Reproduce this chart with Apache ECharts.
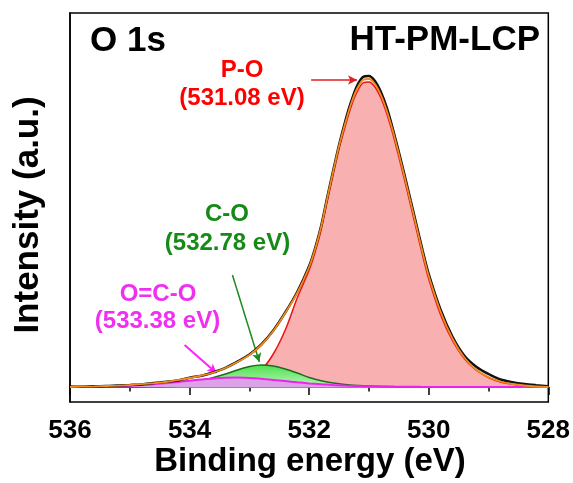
<!DOCTYPE html>
<html>
<head>
<meta charset="utf-8">
<script src="https://cdn.jsdelivr.net/npm/echarts@6/dist/echarts.min.js"></script>
<style>html,body{margin:0;padding:0;background:#fff}#c{width:573px;height:483px}</style>
</head>
<body>
<div id="c"></div>
<script>
// Binding energy grid (eV)
var energy = [536.0,535.8,535.6,535.4,535.2,535.0,534.8,534.6,534.4,534.2,534.0,533.8,533.6,533.4,533.2,533.0,532.8,532.6,532.4,532.2,532.0,531.9,531.8,531.7,531.6,531.5,531.4,531.3,531.2,531.1,531.0,530.9,530.8,530.7,530.6,530.5,530.4,530.3,530.2,530.1,530.0,529.8,529.6,529.4,529.2,529.0,528.8,528.6,528.4,528.2,528.0];
// Raw spectrum (a.u.)
var rawData = [0.5,0.2,0.8,0.9,1.6,2.1,2.6,4.0,5.2,6.6,9.3,11.3,14.8,19.2,25.3,32.4,42.5,56.5,74.5,95,121,139,161,189,216,242,265,285,301,310,311,306,295,279,258,235,211,186,161,136,113,77,50,31,20,13,7.5,4.8,3,1.8,0.8];
// Fitted envelope
var fitData = [0,0.3,0.6,1.0,1.4,2.0,2.8,3.8,5.0,6.8,9.0,11.5,14.5,19,25,32,42,56,74,94,120,138,160,188,215,241,263,283,298,307,308,303,292,276,256,233,209,184,159,134,111,75,48,29,17,10,5.5,3,1.5,0.5,0];
// P-O component
var poData = [0,0,0,0,0,0,0.1,0.2,0.4,0.7,1,1.5,2.5,3.5,5.5,9,17,33,57,89,117,135,157,185,212,238,260,280,295,304,305,300,289,273,253,230,206,181,156,131,108,72,46,28,16.5,9.5,5,2.8,1.4,0.5,0];
// C-O component
var coData = [0,0.1,0.2,0.3,0.4,0.5,0.8,1.2,2,3,4.5,6.5,9.5,13,17,20.5,22,21,18,14,9.5,7.8,6.2,5,4,3.2,2.5,2,1.6,1.3,1,0.8,0.6,0.5,0.4,0.3,0.2,0.2,0.2,0.1,0.1,0.1,0,0,0,0,0,0,0,0,0];
// O=C-O component
var ocoData = [0,0.2,0.4,0.6,0.9,1.3,1.9,2.7,3.8,5.0,6.3,7.5,8.6,9.3,9.4,9.0,8.2,7.1,5.9,4.7,3.6,3.2,2.8,2.4,2.0,1.7,1.4,1.2,1.0,0.8,0.7,0.6,0.5,0.4,0.3,0.3,0.2,0.2,0.2,0.1,0.1,0.1,0,0,0,0,0,0,0,0,0];
var xTicks = [536,534,532,530,528];

function pairs(v){ return energy.map(function(e,i){ return [e, v[i]]; }); }

var chart = echarts.init(document.getElementById('c'), null, {renderer:'canvas'});
function txt(t, x, y, size, color, align, rot){
  return {type:'text', x:x, y:y, rotation:rot||0, style:{text:t, fill:color, font:'bold '+size+'px "Liberation Sans", Arial, sans-serif', textAlign:align||'center', textVerticalAlign:'middle'}, z:100};
}
var option = {
  animation:false,
  backgroundColor:'#fff',
  grid:{left:70, right:23, top:13, bottom:81, show:true, borderColor:'#000', borderWidth:1.5, backgroundColor:'transparent'},
  xAxis:{type:'value', min:528, max:536, interval:2, inverse:true,
    axisLine:{show:true, lineStyle:{color:'#000', width:1.5}},
    axisTick:{show:true, inside:false, length:8, lineStyle:{color:'#000', width:1.5}},
    minorTick:{show:true, splitNumber:2, length:4.5, lineStyle:{color:'#000', width:1.5}},
    splitLine:{show:false},
    axisLabel:{show:true, margin:16, color:'#000', fontSize:26, fontWeight:'bold', fontFamily:'"Liberation Sans", Arial',
      formatter:function(v){ return xTicks.indexOf(v)>=0 ? String(v) : ''; }}
  },
  yAxis:{type:'value', min:-15, max:374, axisLine:{show:true, lineStyle:{color:'#000', width:1.5}}, axisTick:{show:false}, axisLabel:{show:false}, splitLine:{show:false}},
  graphic:[
    txt('O 1s', 90, 41.5, 35, '#000', 'left'),
    txt('HT-PM-LCP', 540, 40.5, 35, '#000', 'right'),
    txt('P-O', 242, 70.5, 24, '#ff0000'),
    txt('(531.08 eV)', 242, 98.5, 24, '#ff0000'),
    txt('C-O', 227, 214.5, 24, '#168a16'),
    txt('(532.78 eV)', 227.5, 243.5, 24, '#168a16'),
    txt('O=C-O', 158, 294.5, 24, '#f030f0'),
    txt('(533.38 eV)', 157.5, 321.5, 24, '#f030f0'),
    txt('Binding energy (eV)', 310, 462, 33, '#000'),
    txt('Intensity (a.u.)', 28, 215, 35, '#000', 'center', Math.PI/2)
  ],
  series:[
    {name:'Background', type:'line', data:pairs(energy.map(function(){return 0;})), showSymbol:false, lineStyle:{color:'#a8a8a8', width:1.5}, z:1,
      markLine:{silent:true, symbol:['none','arrow'], symbolSize:[7,9], label:{show:false}, animation:false,
        data:[
          [{coord:[531.967,307], lineStyle:{color:'#e02020', width:1.5, type:'solid'}},{coord:[531.2,307]}],
          [{coord:[533.283,112], lineStyle:{color:'#1f8a1f', width:1.5, type:'solid'}},{coord:[532.833,25]}],
          [{coord:[534.083,42], lineStyle:{color:'#ff20ff', width:2, type:'solid'}},{coord:[533.55,14]}]
        ]}},
    {name:'P-O', type:'line', data:pairs(poData), smooth:0.3, showSymbol:false, lineStyle:{color:'#ee1111', width:1.5}, areaStyle:{color:'#f9b0b0', opacity:1}, z:2},
    {name:'C-O', type:'line', data:pairs(coData), smooth:0.3, showSymbol:false, lineStyle:{color:'#1d6b1d', width:1.5}, areaStyle:{color:{type:'linear',x:0,y:0,x2:0,y2:1,colorStops:[{offset:0,color:'#4fe04f'},{offset:1,color:'#b8f7b8'}]}, opacity:1}, z:3},
    {name:'O=C-O', type:'line', data:pairs(ocoData), smooth:0.3, showSymbol:false, lineStyle:{color:'#ee22ee', width:2}, areaStyle:{color:'#dca2e6', opacity:1}, z:4},
    {name:'Raw', type:'line', data:pairs(rawData), smooth:0.3, showSymbol:false, lineStyle:{color:'#111', width:2.5}, z:5},
    {name:'Fit', type:'line', data:pairs(fitData), smooth:0.3, showSymbol:false, lineStyle:{color:'#f08a1c', width:1.8}, z:6}
  ]
};
chart.setOption(option);
</script>
</body>
</html>
